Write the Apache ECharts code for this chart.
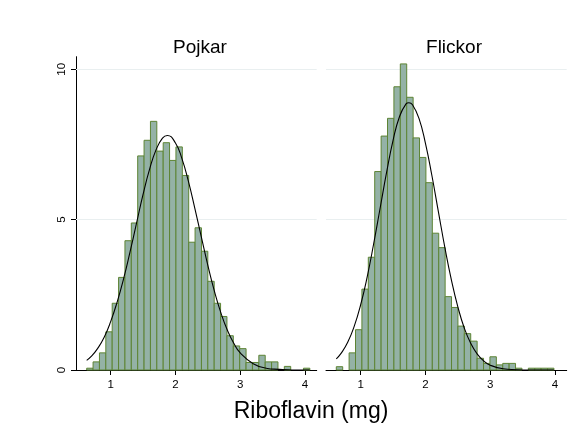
<!DOCTYPE html>
<html>
<head>
<meta charset="utf-8">
<script src="https://cdn.jsdelivr.net/npm/echarts@6/dist/echarts.min.js"></script>
<style>html,body{margin:0;padding:0;background:#fff}#c{width:574px;height:433px}</style>
</head>
<body>
<div id="c"></div>
<script>
// ---- data ----
const panelTitles = ['Pojkar', 'Flickor'];
const xTickValues = [1, 2, 3, 4];
const yTickValues = [0, 5, 10];
const xLabel = 'Riboflavin (mg)';

// histogram: first bin lower edge, bin width, percent per bin
const boysBinStart = 0.63, boysBinWidth = 0.0984;
const boysPct = [0.06,0.27,0.57,1.27,2.22,3.08,4.30,4.89,7.12,7.64,8.27,7.28,7.56,6.97,7.42,6.47,4.25,4.73,3.95,2.95,2.22,1.78,1.14,0.80,0.71,0.25,0.25,0.49,0.27,0.27,0,0.12,0,0,0.06];
const girlsBinStart = 0.624, girlsBinWidth = 0.0988;
const girlsPct = [0.11,0,0.57,1.34,2.69,3.75,6.60,7.78,8.37,9.42,10.18,9.07,7.72,7.07,6.23,4.55,4.07,2.44,2.08,1.46,1.21,0.96,0.39,0.22,0.44,0.17,0.22,0.22,0.06,0,0.06,0.06,0.06,0.06];

// overlaid curves, points
const boysCurveX = [0.63,0.7,0.8,0.9,1.0,1.1,1.2,1.3,1.4,1.5,1.6,1.7,1.8,1.875,2.0,2.1,2.2,2.3,2.4,2.5,2.6,2.7,2.8,2.9,3.0,3.2,3.4,3.6,3.8,4.07];
const boysCurveY = [0.32,0.45,0.72,1.09,1.61,2.26,3.04,3.94,4.89,5.84,6.67,7.32,7.71,7.80,7.55,7.03,6.27,5.37,4.42,3.48,2.63,1.91,1.33,0.89,0.57,0.21,0.06,0.02,0.0,0.0];
const girlsCurveX = [0.624,0.7,0.8,0.9,1.0,1.1,1.2,1.3,1.4,1.5,1.6,1.7,1.745,1.8,1.9,2.0,2.1,2.2,2.3,2.4,2.5,2.6,2.7,2.8,2.9,3.0,3.2,3.4,3.6,3.98];
const girlsCurveY = [0.37,0.56,0.92,1.45,2.17,3.09,4.19,5.38,6.57,7.64,8.43,8.85,8.89,8.82,8.37,7.54,6.46,5.26,4.07,3.00,2.10,1.39,0.88,0.53,0.30,0.16,0.04,0.01,0.0,0.0];

// ---- build ----
function bins(start, width, pct) {
  return pct.map((v, i) => [start + i * width, start + (i + 1) * width, v]);
}
function pairs(xs, ys) { return xs.map((x, i) => [x, ys[i]]); }

const FONT = 'Liberation Sans, Arial, sans-serif';
const fillC = '#94b2a6', edgeC = '#5d8434', gridC = '#e9eff0';
const xMin = 0.465, xMax = 4.18, yMax = 10.42;

function histSeries(idx, data) {
  return {
    type: 'custom', xAxisIndex: idx, yAxisIndex: idx,
    data: data, encode: { x: [0, 1], y: 2 },
    renderItem: function (params, api) {
      const h = api.value(2);
      if (!(h > 0)) return null;
      const p0 = api.coord([api.value(0), h]);
      const p1 = api.coord([api.value(1), 0]);
      return {
        type: 'rect',
        shape: { x: p0[0], y: p0[1], width: p1[0] - p0[0], height: p1[1] - p0[1] },
        style: { fill: fillC, stroke: edgeC, lineWidth: 1 }
      };
    },
    z: 2
  };
}
function curveSeries(idx, data) {
  return {
    type: 'line', xAxisIndex: idx, yAxisIndex: idx, data: data,
    smooth: true, symbol: 'none', silent: true,
    lineStyle: { color: '#000', width: 1.1 }, z: 3,
    markLine: {
      silent: true, symbol: 'none', label: { show: false },
      lineStyle: { color: gridC, width: 1, type: 'solid' },
      data: [{ yAxis: 5 }, { yAxis: 10 }], z: 1
    }
  };
}
function xAxis(idx) {
  return {
    type: 'value', gridIndex: idx, min: xMin, max: xMax,
    axisLine: { show: true, onZero: false, lineStyle: { color: '#000', width: 1 } },
    axisTick: { show: true, length: 5, customValues: xTickValues, lineStyle: { color: '#000' } },
    axisLabel: { customValues: xTickValues, margin: 9, color: '#000', fontSize: 11.5, fontFamily: FONT },
    splitLine: { show: false }
  };
}
function yAxis(idx, show) {
  return {
    type: 'value', gridIndex: idx, min: 0, max: yMax,
    axisLine: { show: show, lineStyle: { color: '#000', width: 1 } },
    axisTick: { show: show, length: 5, customValues: yTickValues, lineStyle: { color: '#000' } },
    axisLabel: { show: show, customValues: yTickValues, rotate: 90, margin: 8, color: '#000', fontSize: 11.5, fontFamily: FONT },
    splitLine: { show: false }
  };
}

const chart = echarts.init(document.getElementById('c'), null, { renderer: 'canvas' });
chart.setOption({
  animation: false,
  backgroundColor: '#fff',
  title: [
    { text: panelTitles[0], left: 195, top: 33, textAlign: 'center', textStyle: { fontSize: 19, fontWeight: 'normal', color: '#000', fontFamily: FONT } },
    { text: panelTitles[1], left: 449, top: 33, textAlign: 'center', textStyle: { fontSize: 19, fontWeight: 'normal', color: '#000', fontFamily: FONT } },
    { text: xLabel, left: 306, top: 395, textAlign: 'center', textStyle: { fontSize: 23, fontWeight: 'normal', color: '#000', fontFamily: FONT } }
  ],
  grid: [
    { left: 76, top: 56.7, width: 240.7, height: 313.3, containLabel: false },
    { left: 326, top: 56.7, width: 240.7, height: 313.3, containLabel: false }
  ],
  xAxis: [xAxis(0), xAxis(1)],
  yAxis: [yAxis(0, true), yAxis(1, false)],
  series: [
    histSeries(0, bins(boysBinStart, boysBinWidth, boysPct)),
    curveSeries(0, pairs(boysCurveX, boysCurveY)),
    histSeries(1, bins(girlsBinStart, girlsBinWidth, girlsPct)),
    curveSeries(1, pairs(girlsCurveX, girlsCurveY))
  ]
});
</script>
</body>
</html>
